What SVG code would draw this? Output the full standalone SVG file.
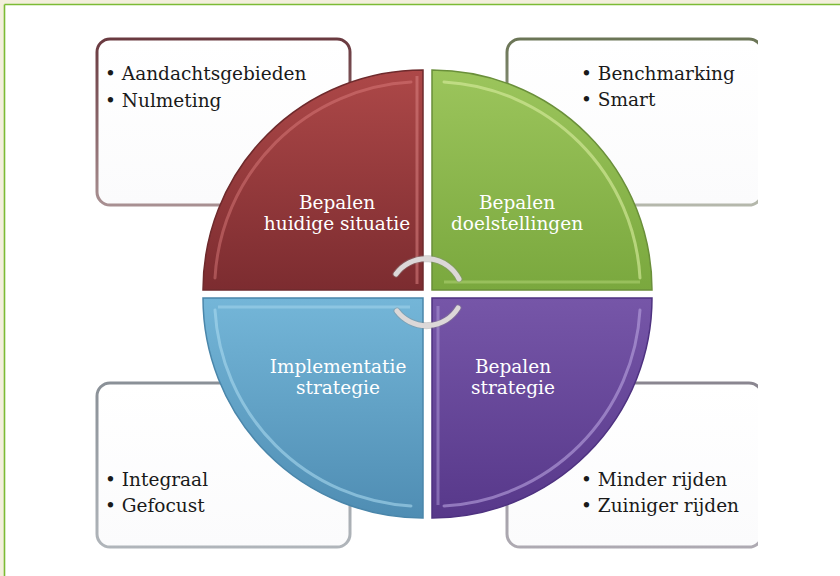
<svg xmlns="http://www.w3.org/2000/svg" width="840" height="576" viewBox="0 0 840 576">
<defs>
<style>
.box{fill:url(#boxFill);stroke-width:3}
.item{font-family:"DejaVu Serif","Liberation Serif",serif;font-size:18.5px;fill:#1a1a1a}
.lab{font-family:"DejaVu Serif","Liberation Serif",serif;font-size:18.5px;fill:#ffffff;text-anchor:middle}
.hl{fill:none;stroke-width:3;stroke-linecap:round}
.ring{fill:none;stroke:#dcd8d8;stroke-width:5;stroke-linecap:round}
.ringEdge{fill:none;stroke:#8a8a8a;stroke-width:7;stroke-linecap:round;opacity:0.4}
</style>
<linearGradient id="boxFill" x1="0" y1="0" x2="0" y2="1"><stop offset="0" stop-color="#ffffff"/><stop offset="1" stop-color="#fbfbfc"/></linearGradient>
<linearGradient id="bRed" x1="0" y1="0" x2="0" y2="1"><stop offset="0" stop-color="#6a3a40"/><stop offset="1" stop-color="#a89092"/></linearGradient>
<linearGradient id="bGreen" x1="0" y1="0" x2="0" y2="1"><stop offset="0" stop-color="#6b7556"/><stop offset="1" stop-color="#b5b8ac"/></linearGradient>
<linearGradient id="bBlue" x1="0" y1="0" x2="0" y2="1"><stop offset="0" stop-color="#8a9097"/><stop offset="1" stop-color="#b0b5ba"/></linearGradient>
<linearGradient id="bPurple" x1="0" y1="0" x2="0" y2="1"><stop offset="0" stop-color="#8a8690"/><stop offset="1" stop-color="#aeaab2"/></linearGradient>
<linearGradient id="gRed" x1="0" y1="0" x2="0" y2="1"><stop offset="0" stop-color="#ad4848"/><stop offset="1" stop-color="#7c2c30"/></linearGradient>
<linearGradient id="gGreen" x1="0" y1="0" x2="0" y2="1"><stop offset="0" stop-color="#9cc55c"/><stop offset="1" stop-color="#7aa83e"/></linearGradient>
<linearGradient id="gBlue" x1="0" y1="0" x2="0" y2="1"><stop offset="0" stop-color="#74b6d8"/><stop offset="1" stop-color="#4f8db3"/></linearGradient>
<linearGradient id="gPurple" x1="0" y1="0" x2="0" y2="1"><stop offset="0" stop-color="#7656a8"/><stop offset="1" stop-color="#57388a"/></linearGradient>
<clipPath id="clipR"><rect x="0" y="0" width="758" height="576"/></clipPath>
</defs>
<rect x="0" y="0" width="840" height="576" fill="#ffffff"/>
<rect x="0" y="0" width="840" height="4" fill="#f3efdc"/>
<rect x="0" y="0" width="4" height="576" fill="#f3efdc"/>
<line x1="4.5" y1="4.5" x2="840" y2="4.5" stroke="#7cbb34" stroke-width="1.6"/>
<line x1="4.5" y1="4.5" x2="4.5" y2="576" stroke="#7cbb34" stroke-width="1.6"/>

<g id="box-tl"><rect class="box" x="97" y="39" width="253" height="166" rx="13" stroke="url(#bRed)"/>
<text class="item" x="105" y="80">• Aandachtsgebieden</text><text class="item" x="105" y="107">• Nulmeting</text></g>
<g id="box-tr" clip-path="url(#clipR)"><rect class="box" x="507" y="39" width="255" height="166" rx="13" stroke="url(#bGreen)"/>
<text class="item" x="581" y="80">• Benchmarking</text><text class="item" x="581" y="106">• Smart</text></g>
<g id="box-bl"><rect class="box" x="97" y="383" width="253" height="164" rx="13" stroke="url(#bBlue)"/>
<text class="item" x="105" y="486">• Integraal</text><text class="item" x="105" y="512">• Gefocust</text></g>
<g id="box-br" clip-path="url(#clipR)"><rect class="box" x="507" y="383" width="255" height="164" rx="13" stroke="url(#bPurple)"/>
<text class="item" x="581" y="486">• Minder rijden</text><text class="item" x="581" y="512">• Zuiniger rijden</text></g>

<g id="q-red"><path d="M423,290 L203,290 A220,220 0 0 1 423,70 Z" fill="url(#gRed)" stroke="#6e2a2c" stroke-width="1.5"/>
<path class="hl" d="M215,278 A208,208 0 0 1 411,82" stroke="#e08080" stroke-opacity="0.45"/>
<line x1="417" y1="76" x2="417" y2="284" stroke="#d88080" stroke-width="3" stroke-opacity="0.55"/>
<text class="lab" x="337" y="209">Bepalen</text><text class="lab" x="337" y="230">huidige situatie</text></g>
<g id="q-green"><path d="M432,290 L432,70 A220,220 0 0 1 652,290 Z" fill="url(#gGreen)" stroke="#6a8f3a" stroke-width="1.5"/>
<path class="hl" d="M444,82 A208,208 0 0 1 640,278" stroke="#d4ea9a" stroke-opacity="0.65"/>
<line x1="444" y1="282" x2="640" y2="282" stroke="#b5d77a" stroke-width="3" stroke-opacity="0.5"/>
<text class="lab" x="517" y="209">Bepalen</text><text class="lab" x="517" y="230">doelstellingen</text></g>
<g id="q-blue"><path d="M423,298 L423,518 A220,220 0 0 1 203,298 Z" fill="url(#gBlue)" stroke="#4a86aa" stroke-width="1.5"/>
<path class="hl" d="M411,506 A208,208 0 0 1 215,310" stroke="#a8d8ee" stroke-opacity="0.6"/>
<line x1="218" y1="307" x2="410" y2="307" stroke="#a8d8ee" stroke-width="3" stroke-opacity="0.5"/>
<text class="lab" x="338" y="373">Implementatie</text><text class="lab" x="338" y="394">strategie</text></g>
<g id="q-purple"><path d="M432,298 L652,298 A220,220 0 0 1 432,518 Z" fill="url(#gPurple)" stroke="#4e3280" stroke-width="1.5"/>
<path class="hl" d="M640,310 A208,208 0 0 1 444,506" stroke="#b9a4e0" stroke-opacity="0.6"/>
<line x1="438" y1="306" x2="438" y2="505" stroke="#b9a4e0" stroke-width="3" stroke-opacity="0.45"/>
<text class="lab" x="513" y="373">Bepalen</text><text class="lab" x="513" y="394">strategie</text></g>

<g id="connectors">
<path class="ringEdge" d="M396,274 A37,37 0 0 1 459,279"/>
<path class="ringEdge" d="M397,311 A37,37 0 0 0 458,308"/>
<path class="ring" d="M396,274 A37,37 0 0 1 459,279"/>
<path class="ring" d="M397,311 A37,37 0 0 0 458,308"/>
</g>
</svg>
